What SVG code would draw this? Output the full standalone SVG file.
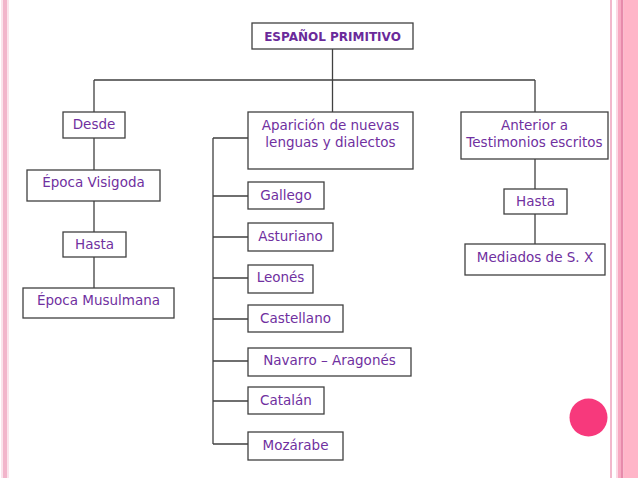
<svg xmlns="http://www.w3.org/2000/svg" width="638" height="478" viewBox="0 0 638 478">
<style>
.box{fill:#fff;stroke:#404040;stroke-width:1.3}
.t{font-family:"DejaVu Sans",sans-serif;font-size:13.5px;fill:#7030a0;text-anchor:middle}
.tb{font-family:"DejaVu Sans",sans-serif;font-size:12px;font-weight:bold;fill:#6a2a9a;text-anchor:middle}
.c{fill:none;stroke:#404040;stroke-width:1.3}
</style>
<rect width="638" height="478" fill="#fff"/>
<g id="borders">
<rect x="1" y="0" width="8" height="478" fill="#fbe3ec"/>
<rect x="3" y="0" width="4" height="478" fill="#f2b5cb"/>
<rect x="610" y="0" width="2" height="478" fill="#f2b8cc"/>
<rect x="616" y="0" width="2" height="478" fill="#fbd9e4"/>
<rect x="618" y="0" width="3" height="478" fill="#f7aac2"/>
<rect x="621" y="0" width="2.5" height="478" fill="#e78aab"/>
<rect x="623.5" y="0" width="14.5" height="478" fill="#ffb5c8"/>
<circle cx="588.5" cy="417.5" r="19" fill="#f7397c"/>
</g>
<g id="connectors">
<path class="c" d="M332.5 49V80M94 80H535M94 80V112M332.5 80V112M535 80V112M94 138V170M94 201V232M94 257V288M535 159V189M535 214V244M213 138V444M213 138H248M213 196H248M213 237H248M213 278H248M213 319H248M213 361H248M213 401H248M213 444H248"/>
</g>
<g id="n-title"><rect class="box" x="252" y="23" width="161" height="26"/><text class="tb" x="332.5" y="41">ESPAÑOL PRIMITIVO</text></g>
<g id="n-desde"><rect class="box" x="63" y="112" width="62" height="26"/><text class="t" x="94" y="128.5">Desde</text></g>
<g id="n-visigoda"><rect class="box" x="27" y="170" width="133" height="31"/><text class="t" x="93.5" y="187">Época Visigoda</text></g>
<g id="n-hasta1"><rect class="box" x="63" y="232" width="63" height="25"/><text class="t" x="94.5" y="248.5">Hasta</text></g>
<g id="n-musulmana"><rect class="box" x="23" y="288" width="151" height="30"/><text class="t" x="98.5" y="305">Época Musulmana</text></g>
<g id="n-aparicion"><rect class="box" x="248" y="112" width="165" height="57"/><text class="t" x="330.5" y="130">Aparición de nuevas</text><text class="t" x="330.5" y="147">lenguas y dialectos</text></g>
<g id="n-gallego"><rect class="box" x="248" y="182" width="76" height="27"/><text class="t" x="286" y="199.5">Gallego</text></g>
<g id="n-asturiano"><rect class="box" x="248" y="223" width="85" height="28"/><text class="t" x="290.5" y="240.5">Asturiano</text></g>
<g id="n-leones"><rect class="box" x="248" y="265" width="65" height="28"/><text class="t" x="280.5" y="282">Leonés</text></g>
<g id="n-castellano"><rect class="box" x="248" y="305" width="95" height="27"/><text class="t" x="295.5" y="322.5">Castellano</text></g>
<g id="n-navarro"><rect class="box" x="248" y="348" width="163" height="28"/><text class="t" x="329.5" y="365">Navarro – Aragonés</text></g>
<g id="n-catalan"><rect class="box" x="248" y="387" width="76" height="27"/><text class="t" x="286" y="404.5">Catalán</text></g>
<g id="n-mozarabe"><rect class="box" x="248" y="432" width="95" height="28"/><text class="t" x="295.5" y="449.5">Mozárabe</text></g>
<g id="n-anterior"><rect class="box" x="461" y="112" width="147" height="47"/><text class="t" x="534.5" y="130">Anterior a</text><text class="t" x="534.5" y="147">Testimonios escritos</text></g>
<g id="n-hasta2"><rect class="box" x="504" y="189" width="63" height="25"/><text class="t" x="535.5" y="206">Hasta</text></g>
<g id="n-mediados"><rect class="box" x="465" y="244" width="140" height="31"/><text class="t" x="535" y="261.5">Mediados de S. X</text></g>
</svg>
